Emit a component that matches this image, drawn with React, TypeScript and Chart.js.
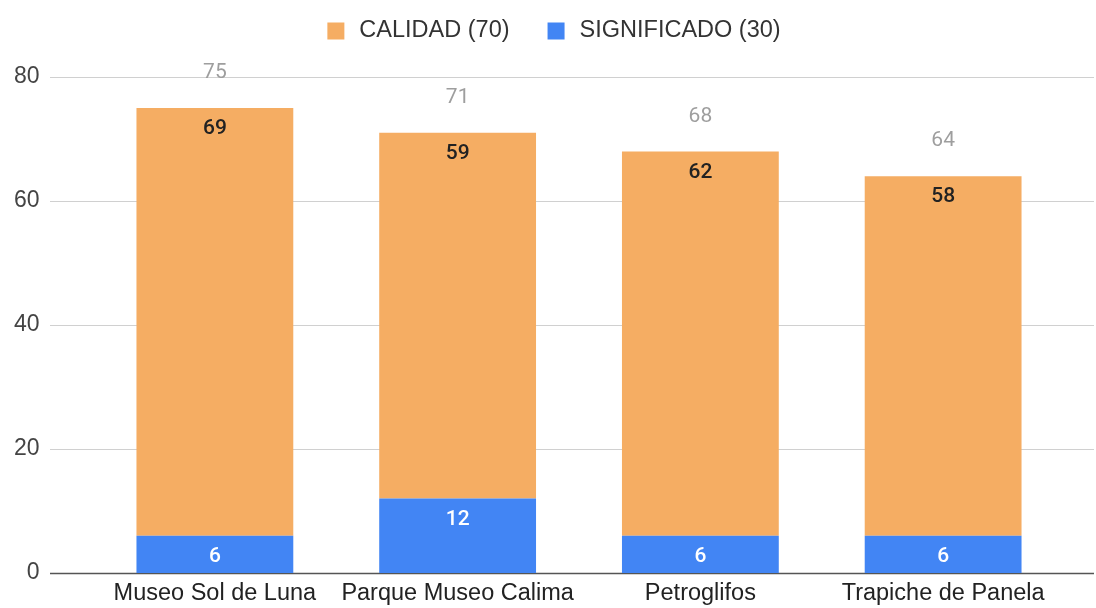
import React, { useEffect, useRef } from 'react';
import { Chart, registerables } from 'chart.js';

Chart.register(...registerables);

const categories = ['Museo Sol de Luna', 'Parque Museo Calima', 'Petroglifos', 'Trapiche de Panela'];
const significadoValues = [6, 12, 6, 6];
const calidadValues = [69, 59, 62, 58];
const significadoLabel = 'SIGNIFICADO (30)';
const calidadLabel = 'CALIDAD (70)';
const yMin = 0;
const yMax = 80;
const yStep = 20;

const ORANGE = '#F5AD63';
const BLUE = '#4285F4';
const AXIS_FONT = '"Liberation Sans", Arial, sans-serif';
const VALUE_FONT = 'Roboto, "Liberation Sans", sans-serif';

const gridPlugin = {
  id: 'extendedGrid',
  beforeDatasetsDraw(chart: any) {
    const { ctx, scales } = chart;
    const y = scales.y;
    ctx.save();
    y.ticks.forEach((t: any) => {
      const py = Math.round(y.getPixelForValue(t.value)) + 0.5;
      ctx.beginPath();
      ctx.strokeStyle = t.value === 0 ? '#555555' : '#d0d0d0';
      ctx.lineWidth = t.value === 0 ? 1.5 : 1;
      ctx.moveTo(50, py);
      ctx.lineTo(chart.width - 2, py);
      ctx.stroke();
    });
    ctx.restore();
  },
};

const labelsPlugin = {
  id: 'valueLabels',
  afterDatasetsDraw(chart: any) {
    const { ctx, scales } = chart;
    ctx.save();
    ctx.textAlign = 'center';
    ctx.textBaseline = 'middle';
    chart.data.datasets.forEach((ds: any, di: number) => {
      const meta = chart.getDatasetMeta(di);
      meta.data.forEach((bar: any, i: number) => {
        ctx.font = `500 21px ${VALUE_FONT}`;
        ctx.fillStyle = di === 0 ? '#ffffff' : '#222222';
        ctx.fillText(String(ds.data[i]), bar.x, bar.y + 21);
      });
    });
    const meta0 = chart.getDatasetMeta(0);
    categories.forEach((_, i) => {
      const total = significadoValues[i] + calidadValues[i];
      const x = meta0.data[i].x;
      const y = scales.y.getPixelForValue(total) - 35;
      ctx.font = `400 21px ${VALUE_FONT}`;
      ctx.fillStyle = '#9E9E9E';
      ctx.fillText(String(total), x, y);
    });
    ctx.restore();
  },
};

const legendPlugin = {
  id: 'customLegend',
  afterDraw(chart: any) {
    const { ctx } = chart;
    const items = [
      { label: calidadLabel, color: ORANGE },
      { label: significadoLabel, color: BLUE },
    ];
    ctx.save();
    ctx.font = `23.5px ${AXIS_FONT}`;
    const box = 17;
    const gapBoxText = 15;
    const gapItems = 38;
    const widths = items.map((it) => ctx.measureText(it.label).width);
    const total = widths.reduce((a, w) => a + box + gapBoxText + w, 0) + gapItems * (items.length - 1);
    let x = 554 - total / 2;
    const cy = 31;
    ctx.textBaseline = 'middle';
    ctx.textAlign = 'left';
    items.forEach((it, i) => {
      ctx.fillStyle = it.color;
      ctx.fillRect(x, cy - box / 2, box, box);
      x += box + gapBoxText;
      ctx.fillStyle = '#333333';
      ctx.fillText(it.label, x, cy);
      x += widths[i] + gapItems;
    });
    ctx.restore();
  },
};

export default function App() {
  const ref = useRef<HTMLCanvasElement>(null);
  useEffect(() => {
    document.body.style.margin = '0';
    const chart = new Chart(ref.current as HTMLCanvasElement, {
      type: 'bar',
      data: {
        labels: categories,
        datasets: [
          { label: significadoLabel, data: significadoValues, backgroundColor: BLUE, barPercentage: 0.646, categoryPercentage: 1 },
          { label: calidadLabel, data: calidadValues, backgroundColor: ORANGE, barPercentage: 0.646, categoryPercentage: 1 },
        ],
      },
      options: {
        animation: false,
        responsive: true,
        maintainAspectRatio: false,
        devicePixelRatio: 1,
        layout: { padding: { top: 77, right: 31.5, bottom: 0, left: 0 } },
        plugins: {
          legend: { display: false },
          tooltip: { enabled: false },
        },
        scales: {
          x: {
            stacked: true,
            grid: { display: false, drawTicks: false },
            border: { display: false },
            ticks: { font: { family: AXIS_FONT, size: 23.5 }, color: '#222222', padding: 6, maxRotation: 0, autoSkip: false },
            afterFit(s: any) { s.height = 35; },
          },
          y: {
            stacked: true,
            min: yMin,
            max: yMax,
            ticks: { stepSize: yStep, font: { family: AXIS_FONT, size: 23 }, color: '#444444', padding: 54 },
            grid: { display: false, drawTicks: false },
            border: { display: false },
            afterFit(s: any) {
              s.width = 93.5;
              s.paddingTop = 0;
              s.paddingBottom = 0;
            },
          },
        },
      },
      plugins: [gridPlugin, labelsPlugin, legendPlugin],
    });
    return () => chart.destroy();
  }, []);
  return (
    <div style={{ position: 'relative', width: 1096, height: 608 }}>
      <canvas ref={ref} />
    </div>
  );
}
